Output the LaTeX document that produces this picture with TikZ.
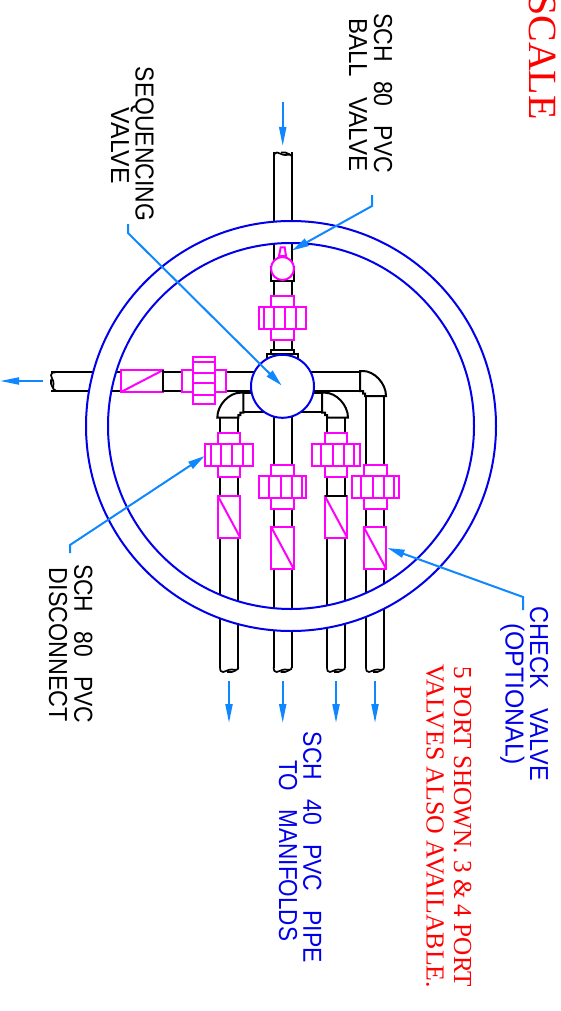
\documentclass[tikz,border=0pt]{standalone}
\usepackage{fontspec}
\setmainfont{Liberation Sans}
\newfontfamily\timesf{Liberation Serif}
\usetikzlibrary{arrows.meta}
\definecolor{leadblue}{RGB}{15,135,255}
\definecolor{ringblue}{RGB}{0,0,235}
\definecolor{mag}{RGB}{255,0,255}
\tikzset{
  pipeline/.style={draw=black,line width=2pt},
  fitting/.style={draw=mag,fill=white,line width=2pt},
  fitline/.style={draw=mag,line width=2pt},
  ring/.style={draw=ringblue,line width=2pt},
  leader/.style={draw=leadblue,line width=2pt,-{Stealth[length=17pt,width=8pt,inset=0pt]}},
  flow/.style={draw=leadblue,line width=2pt,-{Stealth[length=19pt,width=7pt,inset=0pt]}},
  lab/.style={rotate=-90,anchor=base west,inner sep=0pt},
  cadtext/.style={lab,font=\fontsize{26}{26}\selectfont},
  redtext/.style={lab,text=red,font=\timesf\fontsize{26}{26}\selectfont},
}
\newcommand\lbl[6]{\node[#1,text=#2] (#3) at (#4) {\resizebox{#5pt}{\height}{#6}};}
\newcommand\pipeend[2]{%
  \begin{scope}[#1]
  \draw[pipeline,line width=1.7pt] (0,-5) .. controls (0,-1) and (1,0) .. (3,0) .. controls (6,0) and (7,-2.5) .. (11,-2.5) .. controls (15,-2.5) and (18,-1) .. (18,-5);
  \draw[pipeline,line width=1.7pt] (7,0) .. controls (10,.5) and (13,0) .. (16,-2);
  \end{scope}}
\newcommand\elbow[3]{%
  \begin{scope}[shift={(#1,#2)},xscale=#3]
  \draw[pipeline,fill=white] (0,0) -- (0,20) -- (3,20) -- (3,22.5) -- (5,22.5) -- (5,25) -- (26,25) .. controls (26,12) and (14,0) .. (3,0) -- cycle;
  \end{scope}}
\newcommand\vunion[3]{%
  \draw[fitting] (#1-11.3,#2) rectangle (#1+11.3,#2+11.3);
  \draw[fitting] (#1-11.3,#2+33) rectangle (#1+11.3,#2+44);
  \draw[fitting] (#1-23.7,#2+11.3) rectangle (#1+23.7,#2+33);
  \foreach \o in {#3} {\draw[fitline] (#1+\o,#2+11.3) -- (#1+\o,#2+33);}}
\newcommand\vcheck[2]{%
  \draw[fitting] (#1-11.3,#2) rectangle (#1+11.3,#2+42);
  \draw[fitline] (#1-11.3,#2) -- (#1+11.3,#2+42);}
\begin{document}
\begin{tikzpicture}[x=1pt,y=-1pt]
\useasboundingbox (0,0) rectangle (560,1011);
\clip (0,0) rectangle (560,1011);
% pipes
\draw[pipeline] (274,152) -- (274,354) (291.7,152) -- (291.7,354);
\draw[pipeline] (51,372.3) -- (362,372.3) (51,391) -- (362,391);
\draw[pipeline] (243,393) -- (322,393) (243,412.3) -- (322,412.3);
\foreach \a/\b/\s in {220/238.3/417,273.7/291.7/400,327/345/417,366/384.3/395}{
  \draw[pipeline] (\a,\s) -- (\a,668) (\b,\s) -- (\b,668);}
\pipeend{shift={(220,672)},xscale=1.02}{}
\pipeend{shift={(273.7,672)}}{}
\pipeend{shift={(327,672)}}{}
\pipeend{shift={(366,672)}}{}
\pipeend{shift={(274,152.5)},yscale=-1}{}
\pipeend{shift={(51,372.3)},x={(0pt,-1pt)},y={(-1pt,0pt)}}{}
% gap in the pipes between the two rings
\fill[white,even odd rule] (291,426) circle[radius=205] (291,426) circle[radius=183];
\draw[ring] (291,426) circle[radius=205];
\draw[ring] (291,426) circle[radius=183];
% elbows
\elbow{360}{371}{1}
\elbow{243.3}{392.7}{-1}
\elbow{322}{392.7}{1}
% valve head
\draw[pipeline,fill=white] (267,354) rectangle (298,360);
\draw[pipeline,fill=white] (271,349.5) rectangle (294,354);
\draw[pipeline,fill=white] (271,267) rectangle (294,281);
\draw[pipeline] (274,281) -- (274,296) (291.7,281) -- (291.7,296);
\node[circle,draw=ringblue,fill=white,line width=2pt,minimum size=63pt,inner sep=0pt] (seqvalve) at (282.5,386.3) {};
% ball valve
\draw[fitting] (280.7,247.3) -- (284.7,247.3) -- (286,256) -- (279,256) -- cycle;
\node[circle,draw=mag,fill=white,line width=2pt,minimum size=23pt,inner sep=0pt] (ballvalve) at (282.5,268.5) {};
% unions
\vunion{282.5}{296}{-18.2,-8.2,2.5,13.5}
\vunion{229}{432.7}{-18.2,-8,2.7,13.7}
\vunion{282.7}{464.7}{-13.5,-2.2,8.8,19.2}
\vunion{336}{432.7}{-14.7,-2.7,8.3,18.3}
\vunion{375.3}{464.7}{-14,-2,9,19}
% checks
\vcheck{229}{495.7}
\vcheck{282.5}{527}
\vcheck{336}{495.7}
\vcheck{375}{527}
\draw[pipeline] (325,495.7) -- (347,495.7);
% outlet union and check
\draw[fitting] (181.7,370) rectangle (192.7,392);
\draw[fitting] (214.7,370) rectangle (226,392);
\draw[fitting] (192.7,356.7) rectangle (214.7,404);
\foreach \o in {362.3,372.7,383.3,395}{\draw[fitline] (192.7,\o) -- (214.7,\o);}
\draw[fitting] (121,370) rectangle (163.3,392);
\draw[fitline] (121,392) -- (163.3,370);
\draw[pipeline] (163.3,370) -- (163.3,392);
% flow arrows
\coordinate (inS) at (282.7,102); \coordinate (inE) at (282.7,146);
\coordinate (outS) at (43,381); \coordinate (outE) at (0,381);
\draw[flow] (inS) -- (inE);
\draw[flow] (outS) -- (outE);
\foreach \n/\x in {a/229,b/282.7,c/336,d/375}{
  \coordinate (f\n S) at (\x,681); \coordinate (f\n E) at (\x,723);
  \draw[flow] (f\n S) -- (f\n E);}
% leaders
\coordinate (ballS) at (372,195); \coordinate (ballK) at (372,206); \coordinate (ballE) at (292,250.5);
\draw[leader] (ballS) -- (ballK) -- (ballE);
\coordinate (seqS) at (128,224); \coordinate (seqK) at (128,233); \coordinate (seqE) at (281.7,385.5);
\draw[leader] (seqS) -- (seqK) -- (seqE);
\coordinate (disS) at (70,553); \coordinate (disK) at (70,545); \coordinate (disE) at (204.7,456);
\draw[leader] (disS) -- (disK) -- (disE);
\coordinate (chkS) at (523,610); \coordinate (chkK) at (523,597); \coordinate (chkE) at (387.5,548);
\draw[leader] (chkS) -- (chkK) -- (chkE);
% labels
\lbl{cadtext}{black}{t1}{374,13}{160}{SCH\ \ \ 80\ \ \ PVC}
\lbl{cadtext}{black}{t2}{349,18}{153}{BALL\ \ \ VALVE}
\lbl{cadtext}{black}{t3}{135.7,66.7}{154}{SEQUENCING}
\lbl{cadtext}{black}{t4}{111,107.7}{76}{VALVE}
\lbl{cadtext}{black}{t5}{74.3,564}{159}{SCH\ \ \ 80\ \ \ PVC}
\lbl{cadtext}{black}{t6}{49,567.7}{154}{DISCONNECT}
\lbl{cadtext}{ringblue}{t7}{530,606.7}{174}{CHECK\ \ \ VALVE}
\lbl{cadtext}{ringblue}{t8}{505.7,623}{142}{(OPTIONAL)}
\lbl{cadtext}{ringblue}{t9}{303.3,731.7}{231}{SCH\ \ \ 40\ \ \ PVC\ \ \ PIPE}
\lbl{cadtext}{ringblue}{t10}{279,760}{181}{TO\ \ \ MANIFOLDS}
\lbl{redtext}{red}{t11}{454,666.7}{320}{5 PORT SHOWN. 3 \& 4 PORT}
\lbl{redtext}{red}{t12}{426.7,664}{324}{VALVES ALSO AVAILABLE.}
\node[lab,text=red,font=\timesf\fontsize{40}{40}\selectfont] (t13) at (529,-7) {SCALE};
\end{tikzpicture}
\end{document}
